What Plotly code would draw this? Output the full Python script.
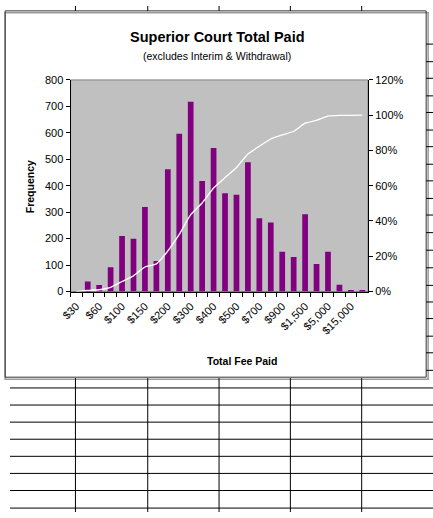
import plotly.graph_objects as go

# fee bins (only every other one is labelled on the axis)
bins = ["$30", "$50", "$60", "$75", "$100", "$125", "$150", "$175", "$200", "$250",
        "$300", "$350", "$400", "$450", "$500", "$600", "$700", "$800", "$900", "$1,000",
        "$1,500", "$2,500", "$5,000", "$10,000", "$15,000", "More"]
frequency = [0, 38, 25, 92, 210, 200, 320, 115, 462, 597,
             718, 418, 543, 372, 366, 489, 277, 261, 150, 131,
             292, 104, 150, 26, 5, 4]
cumulative = [0.0, 0.006, 0.010, 0.024, 0.057, 0.089, 0.139, 0.157, 0.230, 0.324,
              0.436, 0.502, 0.587, 0.646, 0.703, 0.780, 0.824, 0.865, 0.888, 0.909,
              0.955, 0.971, 0.995, 0.999, 0.999, 1.0]
tick_labels = [b if i % 2 == 0 else "" for i, b in enumerate(bins)]

W, H = 433, 518
FONT = "Liberation Sans, Arial, sans-serif"


def px(x, y):
    # window pixel -> paper fraction
    return x / W, 1 - y / H


fig = go.Figure()
fig.add_trace(go.Bar(x=bins, y=frequency, marker=dict(color="#800080", line=dict(width=0)),
                     yaxis="y", showlegend=False))
fig.add_trace(go.Scatter(x=bins, y=cumulative, mode="lines", yaxis="y2",
                         line=dict(color="white", width=1.3, shape="spline", smoothing=0.5),
                         showlegend=False))

x0, y_top = px(62, 75.7)
x1, y_bot = px(366.5, 292.3)

axis_common = dict(showgrid=False, zeroline=False, showline=True, linecolor="black",
                   linewidth=1, ticks="outside", ticklen=4, tickcolor="black",
                   tickfont=dict(family=FONT, size=11, color="black"))
# second set of axes only to give the Excel style "cross" tick marks
inner = dict(showgrid=False, zeroline=False, showline=False, showticklabels=False,
             ticks="inside", ticklen=3, tickcolor="black")

fig.update_layout(
    width=W, height=H,
    margin=dict(l=0, r=0, t=0, b=0),
    paper_bgcolor="white",
    plot_bgcolor="#C0C0C0",
    bargap=0.5,
    font=dict(family=FONT, color="black"),
    xaxis=dict(axis_common, domain=[x0, x1], type="category",
               tickmode="array", tickvals=bins, ticktext=tick_labels,
               tickson="boundaries", tickangle=-45, ticklabelstandoff=3),
    yaxis=dict(axis_common, domain=[y_bot, y_top], range=[0, 800], dtick=100),
    yaxis2=dict(axis_common, overlaying="y", side="right", anchor="x",
                range=[0, 1.2], dtick=0.2, tickformat=".0%"),
    xaxis2=dict(inner, overlaying="x", anchor="y", type="linear",
                range=[-0.5, len(bins) - 0.5], tick0=-0.5, dtick=1),
    yaxis3=dict(inner, overlaying="y", side="left", anchor="x", range=[0, 800], dtick=100),
    yaxis4=dict(inner, overlaying="y", side="right", anchor="x", range=[0, 1.2], dtick=0.2),
)

shapes = []
line_k = dict(color="black", width=1)

# spreadsheet grid around the embedded chart
cols = [67, 141, 214, 287, 360]
for c in cols:
    a, b = px(c, 0)
    _, d = px(c, 5)
    shapes.append(dict(type="line", xref="paper", yref="paper", x0=a, x1=a, y0=b, y1=d, line=line_k))
    a, b = px(c, 381)
    _, d = px(c, 518)
    shapes.append(dict(type="line", xref="paper", yref="paper", x0=a, x1=a, y0=b, y1=d, line=line_k))
rows_bottom = [391, 408.5, 426, 443.5, 461, 478.5, 496, 514]
for r in rows_bottom:
    a, b = px(0, r)
    c, _ = px(433, r)
    shapes.append(dict(type="line", xref="paper", yref="paper", x0=a, x1=c, y0=b, y1=b, line=line_k))
rows_right = [39, 57, 74, 92, 109, 127, 144, 162, 179, 197, 214, 232, 250, 268, 286, 303, 320, 338, 355, 373]
for r in rows_right:
    a, b = px(426, r)
    c, _ = px(433, r)
    shapes.append(dict(type="line", xref="paper", yref="paper", x0=a, x1=c, y0=b, y1=b, line=line_k))

# chart area border with a soft shadow
sa, sb = px(-5, 7)
sc, sd = px(428, 382)
shapes.append(dict(type="rect", xref="paper", yref="paper", x0=sa, x1=sc, y0=sd, y1=sb,
                   layer="below", line=dict(color="#9a9a9a", width=1.5)))
ca, cb = px(-5, 5)
cc, cd = px(426, 380)
shapes.append(dict(type="rect", xref="paper", yref="paper", x0=ca, x1=cc, y0=cd, y1=cb,
                   layer="below", line=dict(color="#333333", width=1)))
# plot area outline (top edge shows grey)
shapes.append(dict(type="rect", xref="x domain", yref="y domain", x0=0, x1=1, y0=0, y1=1,
                   layer="below", line=dict(color="#808080", width=1)))
fig.update_layout(shapes=shapes)

center = dict(xref="paper", yref="paper", showarrow=False, xanchor="center", yanchor="middle")
tx, ty = px(212, 32)
sx, sy = px(212, 51)
fx, fy = px(20, 185)
ax, ay = px(237, 363)
fig.add_annotation(center, text="<b>Superior Court Total Paid</b>", x=tx, y=ty,
                   font=dict(family=FONT, size=14.5))
fig.add_annotation(center, text="(excludes Interim & Withdrawal)", x=sx, y=sy,
                   font=dict(family=FONT, size=10.5))
fig.add_annotation(center, text="<b>Frequency</b>", x=fx, y=fy, textangle=-90,
                   font=dict(family=FONT, size=10.5))
fig.add_annotation(center, text="<b>Total Fee Paid</b>", x=ax, y=ay,
                   font=dict(family=FONT, size=10.5))

# drop the browser's default 8px body margin so the figure sits at the window corner
fig.write_html("out.html", config={"displayModeBar": False},
               post_script="document.body.style.margin='0px';")
